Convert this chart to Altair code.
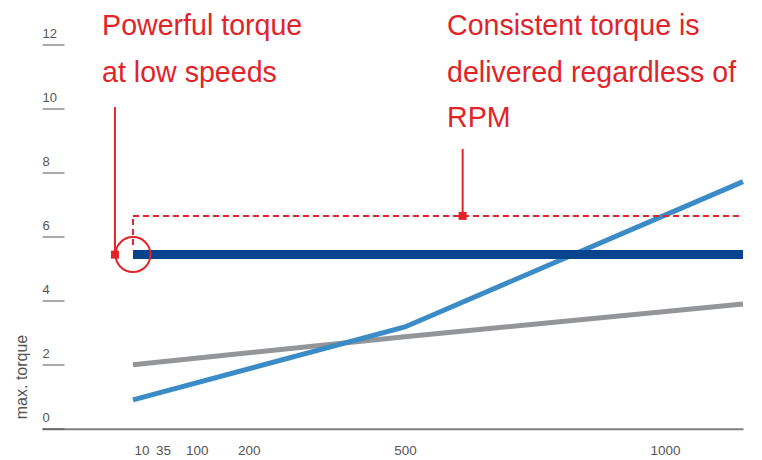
import altair as alt
import pandas as pd

# ---- data ----
x_ticks = [10, 35, 100, 200, 500, 1000]
y_ticks = [0, 2, 4, 6, 8, 10, 12]

rpm_gray = [0, 500, 1150]
torque_gray = [2.0, 2.87, 3.9]

rpm_blue = [0, 500, 1150]
torque_blue = [0.9, 3.18, 7.72]

rpm_const = [0, 1150]
torque_const = [5.44, 5.44]

rpm_dash = [0, 1150]
torque_dash = [6.65, 6.65]

dash_vert_x = [0]
dash_vert_y = [5.74]
dash_vert_y2 = [6.65]

circle_x = [0]
circle_y = [5.44]

callout_x = [-21, 611]
callout_top = [10.05, 8.74]
callout_bottom = [5.44, 6.65]

left_text = ["Powerful torque", "at low speeds"]
left_text_x = [-36, -36]
left_text_y = [12.30, 10.83]

right_text = ["Consistent torque is", "delivered regardless of the", "RPM"]
right_text_x = [581, 581, 581]
right_text_y = [12.30, 10.83, 9.42]

RED = "#e1232a"
FONT = "Liberation Sans"
AXIS_GRAY = "#555555"

xscale = alt.Scale(domain=[-106, 35, 1000, 1150], range=[0, 121, 623, 701],
                   nice=False, zero=False)
yscale = alt.Scale(domain=[0, 13.1], nice=False, zero=False)

xaxis = alt.Axis(values=x_ticks, title=None, ticks=False, tickSize=0, format="d",
                 domainColor="#7f7f7f", domainWidth=2, labelPadding=15,
                 labelFontSize=13.5, labelColor=AXIS_GRAY, labelFont=FONT,
                 grid=False, labelBaseline="top")
yaxis = alt.Axis(values=y_ticks, title="max. torque", offset=-22, domain=False,
                 tickSize=22, tickColor=AXIS_GRAY, tickWidth=1,
                 labelAlign="left", labelPadding=0, labelBaseline="alphabetic",
                 labelOffset=-7, labelFontSize=13, labelColor=AXIS_GRAY,
                 labelFont=FONT, grid=False,
                 titleFont=FONT, titleFontSize=16, titleFontWeight="normal",
                 titleColor=AXIS_GRAY, titleAngle=270, titleX=-43, titleY=367,
                 titleAlign="center", titleBaseline="middle")

gray_df = pd.DataFrame({"rpm": rpm_gray, "torque": torque_gray})
blue_df = pd.DataFrame({"rpm": rpm_blue, "torque": torque_blue})
const_df = pd.DataFrame({"rpm": rpm_const, "torque": torque_const})
dash_df = pd.DataFrame({"rpm": rpm_dash, "torque": torque_dash})
vdash_df = pd.DataFrame({"rpm": dash_vert_x, "y": dash_vert_y, "y2": dash_vert_y2})
circle_df = pd.DataFrame({"rpm": circle_x, "torque": circle_y})
callout_df = pd.DataFrame({"rpm": callout_x, "top": callout_top, "bottom": callout_bottom})
ltext_df = pd.DataFrame({"rpm": left_text_x, "torque": left_text_y, "label": left_text})
rtext_df = pd.DataFrame({"rpm": right_text_x, "torque": right_text_y, "label": right_text})

X = alt.X("rpm:Q", scale=xscale, axis=xaxis)
Y = alt.Y("torque:Q", scale=yscale, axis=yaxis)

gray = alt.Chart(gray_df).mark_line(color="#949598", strokeWidth=5).encode(x=X, y=Y)
blue = alt.Chart(blue_df).mark_line(color="#3a8bc6", strokeWidth=5).encode(x=X, y=Y)
const = alt.Chart(const_df).mark_line(color="#08438d", strokeWidth=9).encode(x=X, y=Y)
dash = alt.Chart(dash_df).mark_line(color=RED, strokeWidth=2, strokeDash=[6, 4]).encode(x=X, y=Y)
vdash = alt.Chart(vdash_df).mark_rule(color=RED, strokeWidth=2, strokeDash=[6, 4]).encode(
    x=alt.X("rpm:Q", scale=xscale), y=alt.Y("y:Q", scale=yscale), y2="y2:Q")
circle = alt.Chart(circle_df).mark_point(shape="circle", size=1225, filled=False,
                                         color=RED, strokeWidth=2, opacity=1).encode(x=X, y=Y)
callout_line = alt.Chart(callout_df).mark_rule(color=RED, strokeWidth=2).encode(
    x=alt.X("rpm:Q", scale=xscale), y=alt.Y("top:Q", scale=yscale), y2="bottom:Q")
callout_sq = alt.Chart(callout_df).mark_square(color=RED, size=64, opacity=1).encode(
    x=alt.X("rpm:Q", scale=xscale), y=alt.Y("bottom:Q", scale=yscale))
ltext = alt.Chart(ltext_df).mark_text(align="left", baseline="alphabetic", font=FONT,
                                      fontSize=28.6, color=RED).encode(x=X, y=Y, text="label:N")
rtext = alt.Chart(rtext_df).mark_text(align="left", baseline="alphabetic", font=FONT,
                                      fontSize=28.6, color=RED, clip=True).encode(x=X, y=Y, text="label:N")

chart = alt.layer(gray, blue, const, dash, vdash, circle, callout_line, callout_sq,
                  ltext, rtext).properties(
    width=701, height=419.2,
    autosize=alt.AutoSizeParams(type="none"),
    padding={"left": 34, "top": 1.5, "right": 11, "bottom": 31},
).configure(background="white", view=alt.ViewConfig(stroke=None))

chart.save("out.html", embed_options={"renderer": "svg", "actions": False})
